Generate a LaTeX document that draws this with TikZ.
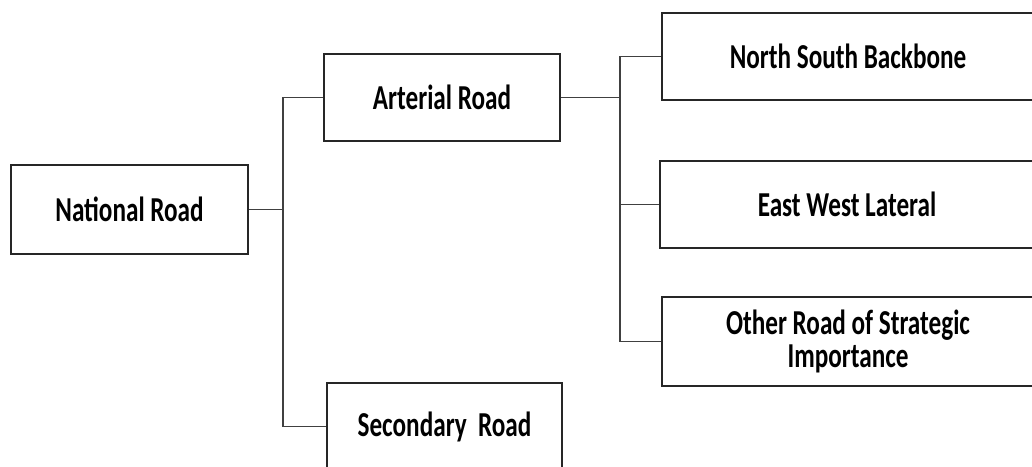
\documentclass[tikz,border=0pt]{standalone}
\usepackage{fontspec}
\newfontfamily\labfont[FakeStretch=0.72]{Carlito}
\begin{document}
\begin{tikzpicture}[x=1pt,y=-1pt,
  box/.style={draw=black!85, line width=1.8pt, fill=white, inner sep=0pt, align=center,
    font=\labfont\bfseries\fontsize{35}{33}\selectfont},
  conn/.style={draw=black!75, line width=1.8pt}]
\useasboundingbox (0,0) rectangle (1032,466);
\clip (0,0) rectangle (1032,466);
\node[box, minimum width=237pt, minimum height=89pt] (nat) at (129.5,209.5) {National Road};
\node[box, minimum width=236pt, minimum height=87pt] (art) at (442,97.5) {Arterial Road};
\node[box, minimum width=235pt, minimum height=87pt] (sec) at (444.5,426.5) {Secondary\ \ Road};
\node[box, minimum width=372pt, minimum height=87pt] (ns) at (848,56.5) {North South Backbone};
\node[box, minimum width=374pt, minimum height=87pt] (ew) at (847,204.5) {East West Lateral};
\node[box, minimum width=372pt, minimum height=89pt] (ot) at (848,341.5) {Other Road of Strategic\\Importance};
\coordinate (j1) at (283,209.5);
\coordinate (j2) at (620,97.5);
\draw[conn] (nat.east) -- (j1);
\draw[conn] (j1) |- (art.west);
\draw[conn] (j1) |- (sec.west);
\draw[conn] (art.east) -- (j2);
\draw[conn] (j2) |- (ns.west);
\draw[conn] (j2) |- (ew.west);
\draw[conn] (j2) |- (ot.west);
\end{tikzpicture}
\end{document}
